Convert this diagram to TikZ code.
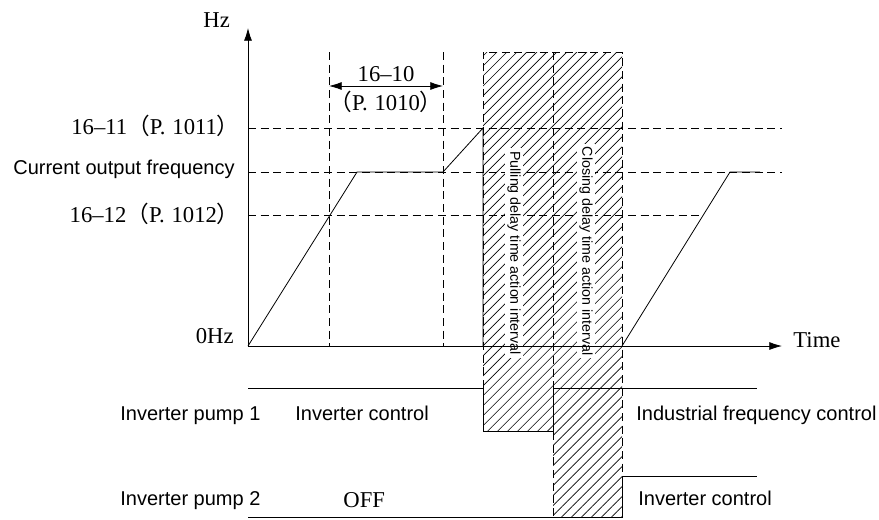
\documentclass[tikz,border=0pt]{standalone}
\usepackage{fontspec}
\setmainfont{Liberation Serif}
\setsansfont{Liberation Sans}
\newfontfamily\cjkfont{Noto Sans CJK SC}
\usetikzlibrary{arrows.meta,patterns.meta}
\newcommand{\fwl}{{\cjkfont （}}
\newcommand{\fwr}{{\cjkfont ）}}

\begin{document}
\begin{tikzpicture}[x=0.75pt,y=-0.75pt,line width=0.6pt,>={Latex[length=9.5pt,width=6pt]},
  griddash/.style={dash pattern=on 6pt off 3.5pt},
  hatch/.style={pattern={Lines[angle=45,distance=5.3pt,line width=0.5pt]}},
  lbl/.style={font=\sffamily\fontsize{15}{18}\selectfont,inner sep=0pt},
  num/.style={font=\fontsize{17}{20}\selectfont,inner sep=0pt},
  vlbl/.style={font=\sffamily\fontsize{10.7}{12}\selectfont,rotate=-90,fill=white,inner sep=2pt}]
  \useasboundingbox (0,0) rectangle (879,519);
  % Key points of the frequency chart (pixel grid, y down)
  \coordinate (O) at (248,346);
  \coordinate (Ytop) at (248,28);
  \coordinate (Xend) at (782,346);
  % Hatched delay intervals
  \fill[hatch] (483,52) rectangle (553,431);
  \fill[hatch] (553,52) rectangle (622,517);
  \draw[griddash] (483,388) -- (483,52) -- (622,52) -- (622,476);
  \draw[griddash] (553,52) -- (553,517);
  % Level and time guide lines
  \draw[griddash] (248,128) -- (782,128);
  \draw[griddash] (248,172) -- (782,172);
  \draw[griddash] (248,215) -- (703,215);
  \draw[griddash] (329,52) -- (329,346);
  \draw[griddash] (443,52) -- (443,346);
  % Interval labels over the hatching
  \node[vlbl] (pull) at (514,253) {Pulling delay time action interval};
  \node[vlbl] (close) at (586,251) {Closing delay time action interval};
  % Axes
  \draw[->] (O) -- (Ytop);
  \draw[->] (O) -- (Xend);
  % Output frequency
  \draw (O) -- (357,172) -- (443,172) -- (483,128) -- (483,346);
  \draw (622,346) -- (730,172) -- (760,172);
  % 16-10 span
  \coordinate (Sa) at (329,86);
  \coordinate (Sb) at (443,86);
  \draw[<->] (Sa) -- (Sb);
  \node[num,anchor=base] (t1610) at (386,81) {16–10};
  \node[num,anchor=base] (p1010) at (386,110) {\fwl P.\hspace{0.3em}1010\fwr};
  % Pump states
  \draw (248,388) -- (483,388) -- (483,431) -- (553,431) -- (553,388) -- (757,388);
  \draw (248,517) -- (622,517) -- (622,476) -- (757,476);
  % Axis and level labels
  \node[num,anchor=base west] (hz) at (203,27) {Hz};
  \node[num,anchor=base east] (l1011) at (240,134) {16–11\fwl P.\hspace{0.3em}1011\fwr};
  \node[lbl,anchor=base east] (cur) at (235,174) {Current output frequency};
  \node[num,anchor=base east] (l1012) at (240,222) {16–12\fwl P.\hspace{0.3em}1012\fwr};
  \node[num,anchor=base east] (zero) at (234,343) {0Hz};
  \node[num,anchor=base west] (time) at (793,347) {Time};
  % Pump labels
  \node[lbl,anchor=base west] (pump1) at (120,420) {Inverter pump 1};
  \node[lbl,anchor=base west] (inv1) at (295,420) {Inverter control};
  \node[lbl,anchor=base west] (ind1) at (636,420) {Industrial frequency control};
  \node[lbl,anchor=base west] (pump2) at (120,505) {Inverter pump 2};
  \node[num,anchor=base west] (off2) at (343,507) {OFF};
  \node[lbl,anchor=base west] (inv2) at (638,505) {Inverter control};
\end{tikzpicture}
\end{document}
